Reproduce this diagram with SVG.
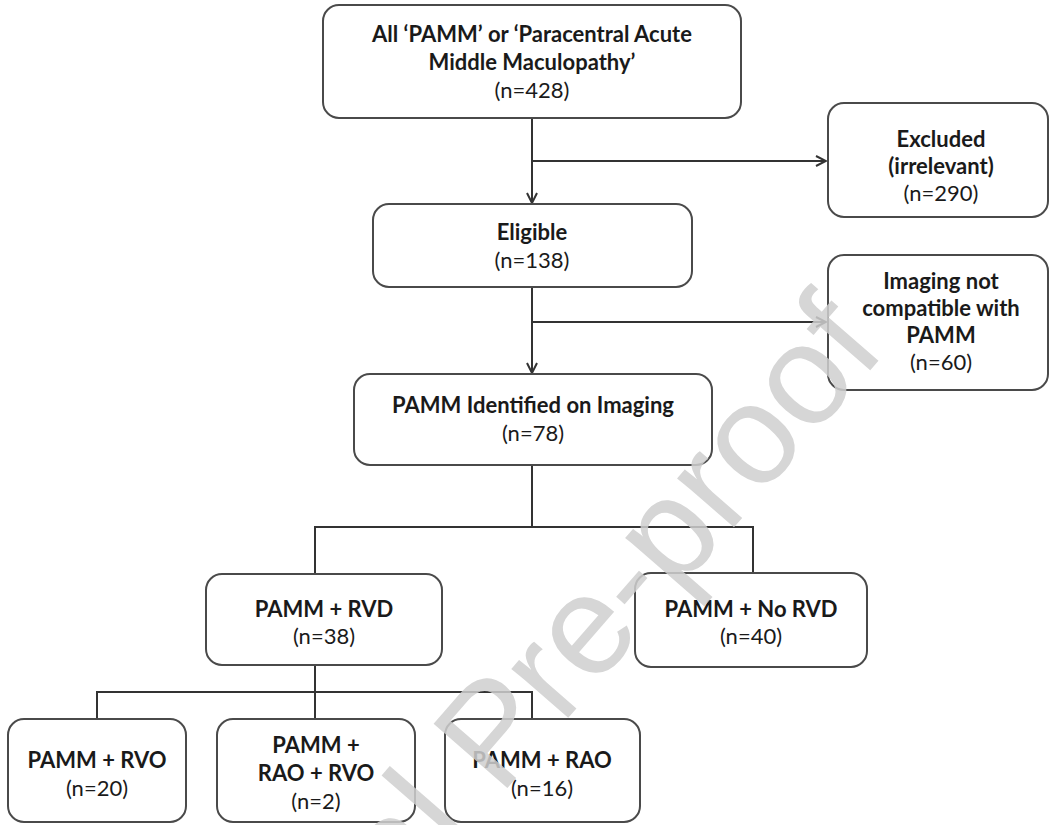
<svg xmlns="http://www.w3.org/2000/svg" width="1050" height="825" viewBox="0 0 1050 825">
<defs>
<marker id="arr" viewBox="0 0 12 12" refX="11" refY="6" markerWidth="12" markerHeight="12" markerUnits="userSpaceOnUse" orient="auto">
<path d="M1,1 L11,6 L1,11" fill="none" stroke="#333" stroke-width="2"/>
</marker>
<style>
.box{fill:#fff;stroke:#4a4a4a;stroke-width:2}
.t{font-family:Lato,"Open Sans","Liberation Sans",sans-serif;font-size:22px;fill:#1a1a1a;text-anchor:middle}
.b{font-weight:bold}
.c{fill:none;stroke:#333;stroke-width:2}
.wm{font-family:"Liberation Sans",Arial,sans-serif;font-size:142px;fill:#cfcfcf;opacity:0.85}
</style>
</defs>
<rect width="1050" height="825" fill="#fff"/>
<g id="connectors">
<path class="c" d="M532,118 V203" marker-end="url(#arr)"/>
<path class="c" d="M532,161 H826" marker-end="url(#arr)"/>
<path class="c" d="M532,287 V373" marker-end="url(#arr)"/>
<path class="c" d="M532,322 H826" marker-end="url(#arr)"/>
<path class="c" d="M532,465 V527 M315,574 V527 H753 V573"/>
<path class="c" d="M315,665 V692 M97,719 V692 H532 V719 M315,692 V719"/>
</g>
<g id="n1">
<rect class="box" x="323" y="5" width="418" height="113" rx="16"/>
<text class="t b" x="532" y="42">All ‘PAMM’ or ‘Paracentral Acute</text>
<text class="t b" x="532" y="70">Middle Maculopathy’</text>
<text class="t" x="532" y="98">(n=428)</text>
</g>
<g id="n2">
<rect class="box" x="828" y="103" width="220" height="114" rx="16"/>
<text class="t b" x="941" y="147">Excluded</text>
<text class="t b" x="941" y="174">(irrelevant)</text>
<text class="t" x="941" y="201">(n=290)</text>
</g>
<g id="n3">
<rect class="box" x="373" y="204" width="319" height="83" rx="16"/>
<text class="t b" x="532" y="240">Eligible</text>
<text class="t" x="532" y="268">(n=138)</text>
</g>
<g id="n4">
<rect class="box" x="828" y="255" width="220" height="135" rx="16"/>
<text class="t b" x="941" y="289">Imaging not</text>
<text class="t b" x="941" y="316">compatible with</text>
<text class="t b" x="941" y="343">PAMM</text>
<text class="t" x="941" y="370">(n=60)</text>
</g>
<g id="n5">
<rect class="box" x="354" y="374" width="358" height="91" rx="16"/>
<text class="t b" x="533" y="413">PAMM Identified on Imaging</text>
<text class="t" x="533" y="441">(n=78)</text>
</g>
<g id="n6">
<rect class="box" x="206" y="574" width="236" height="91" rx="16"/>
<text class="t b" x="324" y="617">PAMM + RVD</text>
<text class="t" x="324" y="644">(n=38)</text>
</g>
<g id="n7">
<rect class="box" x="635" y="573" width="232" height="94" rx="16"/>
<text class="t b" x="751" y="617">PAMM + No RVD</text>
<text class="t" x="751" y="644">(n=40)</text>
</g>
<g id="n8">
<rect class="box" x="8" y="719" width="178" height="103" rx="16"/>
<text class="t b" x="97" y="768">PAMM + RVO</text>
<text class="t" x="97" y="796">(n=20)</text>
</g>
<g id="n9">
<rect class="box" x="217" y="719" width="198" height="103" rx="16"/>
<text class="t b" x="316" y="753">PAMM +</text>
<text class="t b" x="316" y="781">RAO + RVO</text>
<text class="t" x="316" y="809">(n=2)</text>
</g>
<g id="n10">
<rect class="box" x="445" y="719" width="195" height="103" rx="16"/>
<text class="t b" x="542" y="768">PAMM + RAO</text>
<text class="t" x="542" y="796">(n=16)</text>
</g>
<text class="wm" x="888" y="350" text-anchor="end" transform="rotate(-49 888 350)">Journal Pre-proof</text>
</svg>
